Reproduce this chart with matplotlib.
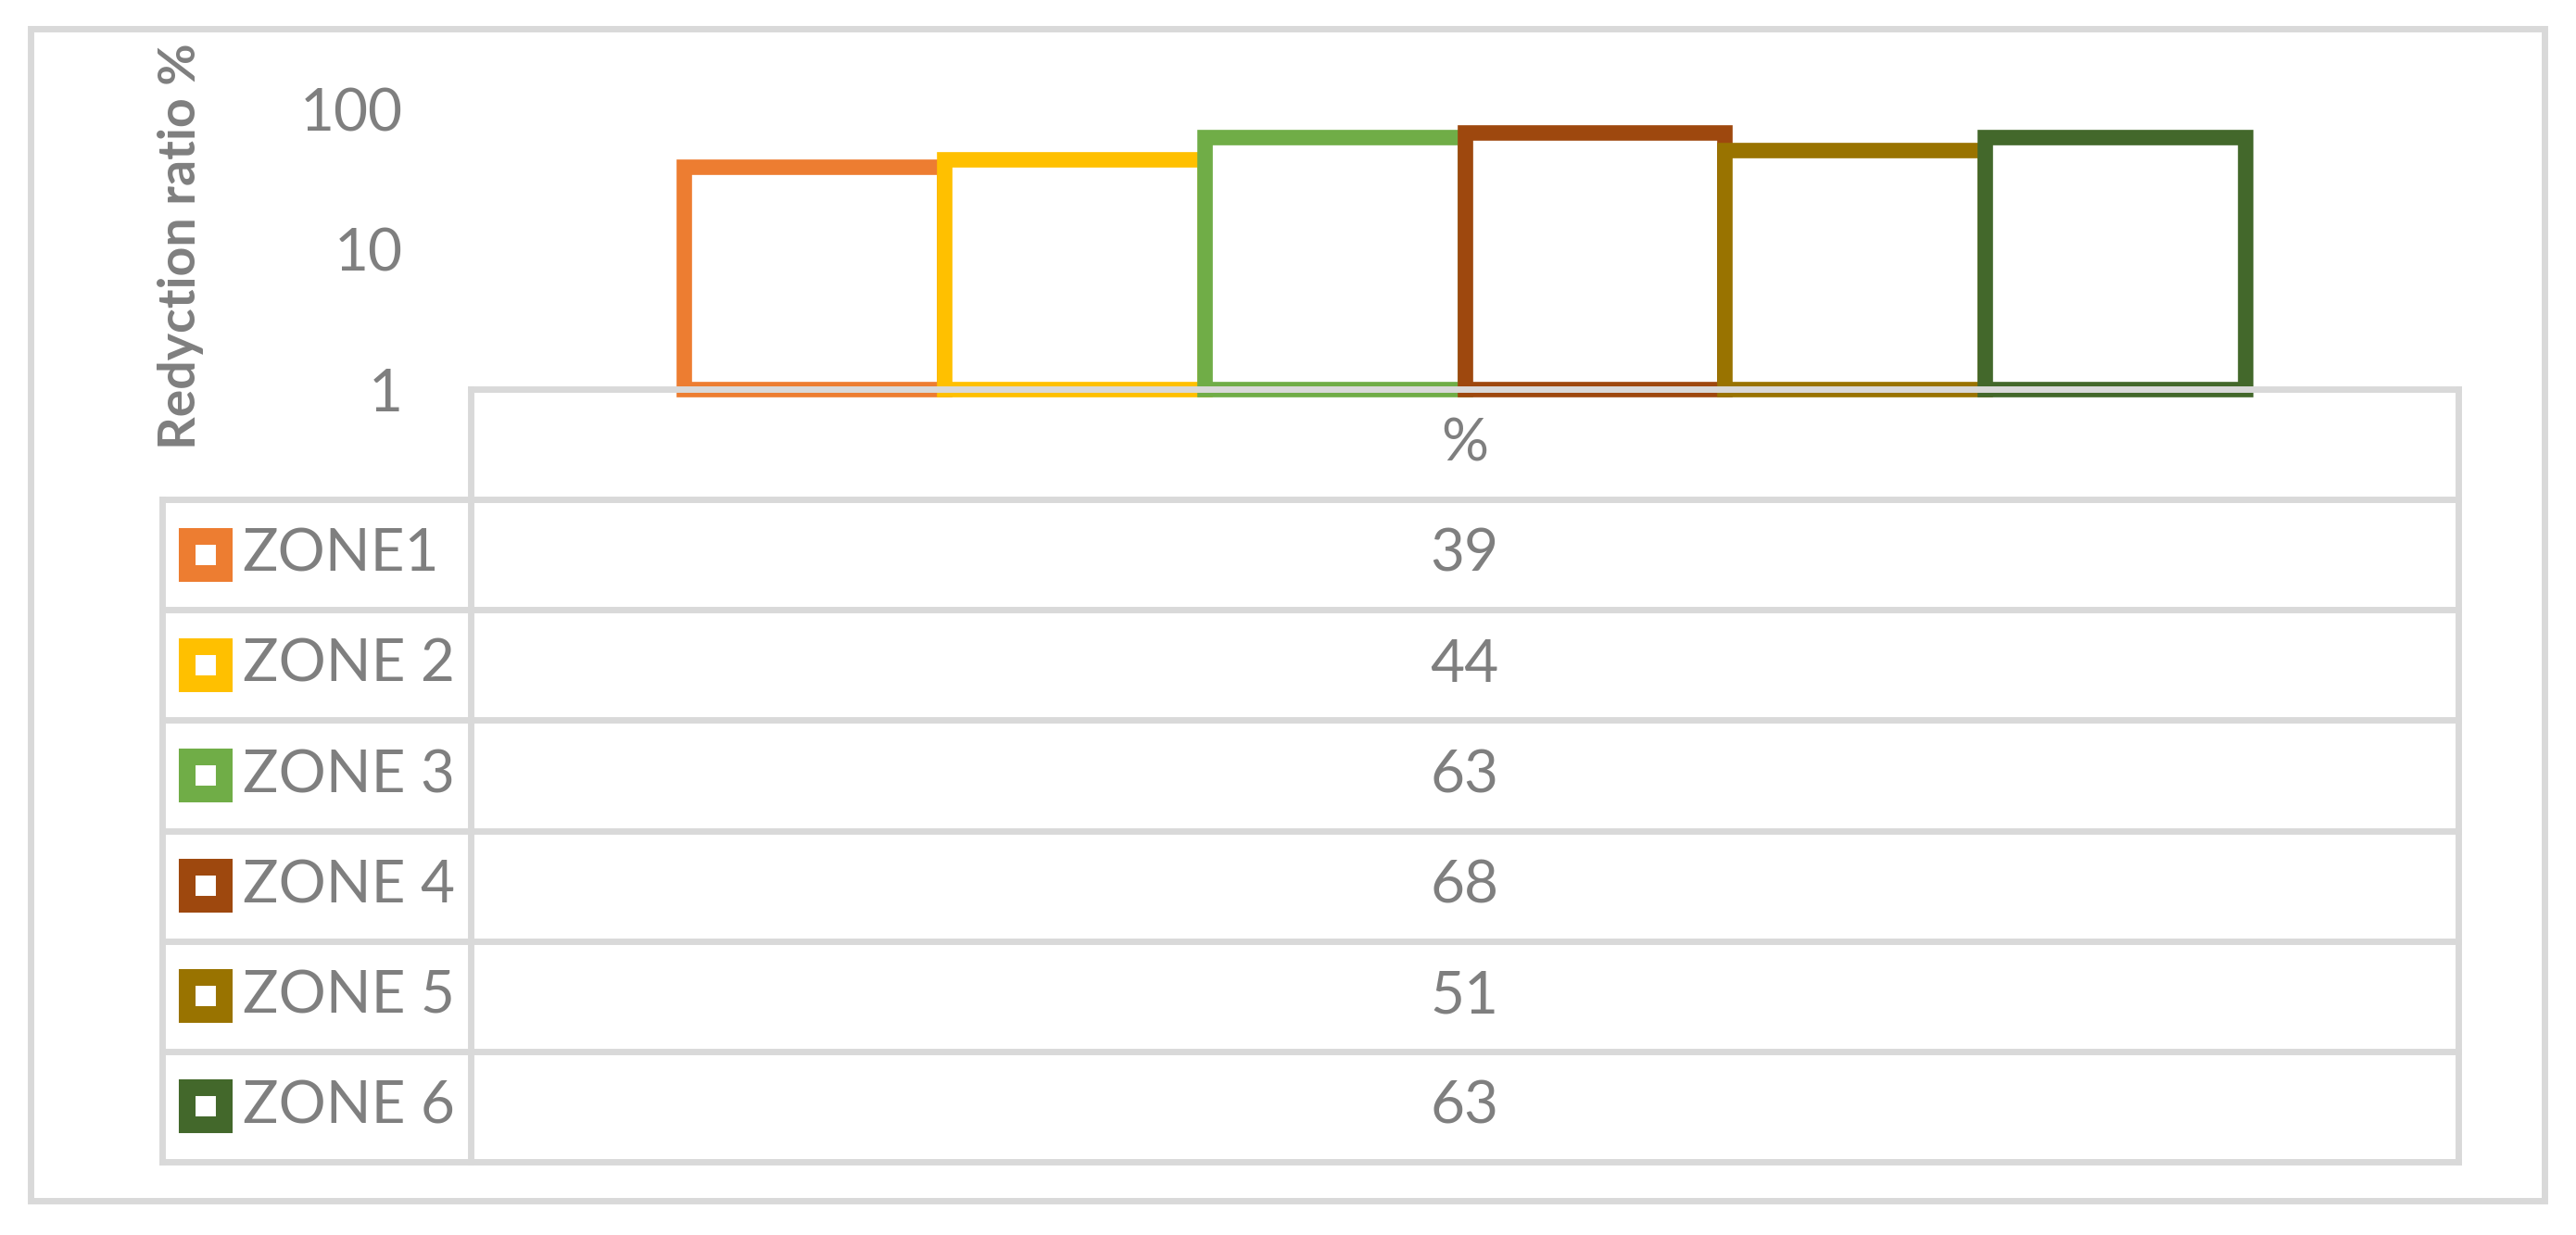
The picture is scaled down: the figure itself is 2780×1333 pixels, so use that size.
import matplotlib.pyplot as plt

zones = ["ZONE1", "ZONE 2", "ZONE 3", "ZONE 4", "ZONE 5", "ZONE 6"]
ratio = [39, 44, 63, 68, 51, 63]
colors = ["#ED7D31", "#FFC000", "#70AD47", "#9E480E", "#997300", "#43682B"]
yticks = [1, 10, 100]
header = "%"

plt.rcParams['font.family'] = ['Lato', 'DejaVu Sans']
TXT = "#7F7F7F"
GRID = "#D9D9D9"

W, H = 2780, 1333
fig = plt.figure(figsize=(W / 100, H / 100), dpi=100)


def box(x0, y0, x1, y1):
    # pixel box (top-left origin) -> figure fraction rect
    return [x0 / W, 1 - y1 / H, (x1 - x0) / W, (y1 - y0) / H]


# outer chart border
fig.patches.append(plt.Rectangle((33 / W, 1 - 1296 / H), (2746 - 33) / W, (1296 - 31) / H,
                                 transform=fig.transFigure, fill=False, ec=GRID, lw=5))

# Bars (one category, six series side by side)
ax = fig.add_axes(box(508, 118, 2653, 420))
bw = 0.131
n = len(ratio)
for i, (v, c) in enumerate(zip(ratio, colors)):
    ax.bar((i - (n - 1) / 2) * bw, v - 1, bottom=1, width=bw, color="white",
           edgecolor=c, linewidth=12, clip_on=False, zorder=1)
ax.set_yscale("log")
ax.set_ylim(1, 100)
ax.set_xlim(-0.5, 0.5)
ax.set_yticks(yticks)
ax.set_yticklabels([str(t) for t in yticks])
ax.minorticks_off()
ax.tick_params(axis="y", which="both", length=0, pad=53, labelsize=46, labelcolor=TXT)
ax.set_xticks([])
for s in ["left", "top", "right"]:
    ax.spines[s].set_visible(False)
ax.spines["bottom"].set_color(GRID)
ax.spines["bottom"].set_linewidth(5)
ax.spines["bottom"].set_zorder(3)
ax.set_ylabel("Redyction ratio %", fontsize=40, fontweight="bold", color=TXT, va="center")
ax.yaxis.set_label_coords(-0.146, 0.51)

# Data table below the plot
tab = fig.add_axes(box(175, 420, 2653, 1254))
nrows = len(zones) + 1
tab.set_xlim(0, 1)
tab.set_ylim(nrows, 0)
tab.axis("off")
split = (508 - 175) / (2653 - 175)
lkw = dict(color=GRID, lw=5, solid_capstyle="projecting", clip_on=False)

tab.plot([0, 0], [1, nrows], **lkw)
tab.plot([split, split], [0, nrows], **lkw)
tab.plot([1, 1], [0, nrows], **lkw)
for r in range(1, nrows + 1):
    tab.plot([0, 1], [r, r], **lkw)

mid = (split + 1) / 2
tab.text(mid, 0.5, header, ha="center", va="center", fontsize=46, color=TXT)
for i, (z, v, c) in enumerate(zip(zones, ratio, colors)):
    y = i + 1.5
    tab.plot(0.019, y, marker="s", ms=29.5, mew=13, mec=c, mfc="white", clip_on=False)
    tab.text(0.035, y, z, ha="left", va="center", fontsize=46, color=TXT)
    tab.text(mid, y, str(v), ha="center", va="center", fontsize=46, color=TXT)

fig.savefig("out.png", dpi=100, facecolor="white")
